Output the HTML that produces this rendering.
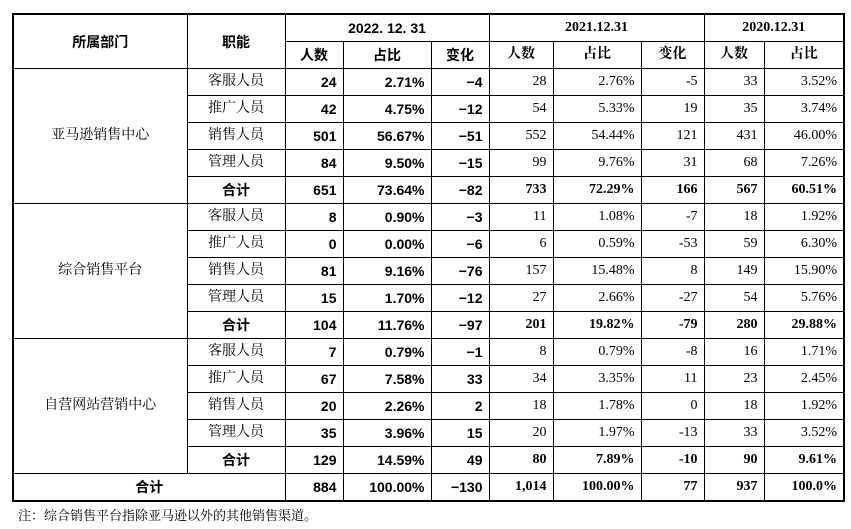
<!DOCTYPE html>
<html><head><meta charset="utf-8"><style>
body{margin:0;background:#fff;width:851px;height:529px;overflow:hidden;position:relative}
table{position:absolute;left:12px;top:13px;border-collapse:collapse;border:2px solid #000;table-layout:fixed;font-family:"Liberation Serif","Noto Serif CJK SC",serif;font-size:14px;color:#000}
td,th{border:1px solid #000;padding:0 6px;height:26px;line-height:16px;white-space:nowrap;vertical-align:middle;overflow:hidden}
th{font-weight:bold;text-align:center;font-family:"Liberation Sans","Noto Sans CJK SC",sans-serif}
td{text-align:right}
.c{text-align:center}
.s{font-family:"Liberation Sans","Noto Sans CJK SC",sans-serif;font-weight:bold}
.b{font-weight:bold}
.sf{font-family:"Liberation Serif","Noto Serif CJK SC",serif}
.note{position:absolute;left:18px;top:505px;font-family:"Liberation Serif","Noto Serif CJK SC",serif;font-size:13px}
</style></head><body>
<table>
<colgroup><col style="width:174px"><col style="width:98px"><col style="width:58px"><col style="width:88px"><col style="width:58px"><col style="width:64px"><col style="width:88px"><col style="width:63px"><col style="width:60px"><col style="width:80px"></colgroup>
<tr><th rowspan="2">所属部门</th><th rowspan="2">职能</th><th colspan="3">2022. 12. 31</th><th colspan="3" class="sf">2021.12.31</th><th colspan="2" class="sf">2020.12.31</th></tr>
<tr><th>人数</th><th>占比</th><th>变化</th><th class="sf">人数</th><th class="sf">占比</th><th class="sf">变化</th><th class="sf">人数</th><th class="sf">占比</th></tr>
<tr><td class="c" rowspan="5">亚马逊销售中心</td><td class="c">客服人员</td><td class="s">24</td><td class="s">2.71%</td><td class="s">−4</td><td>28</td><td>2.76%</td><td>-5</td><td>33</td><td>3.52%</td></tr>
<tr><td class="c">推广人员</td><td class="s">42</td><td class="s">4.75%</td><td class="s">−12</td><td>54</td><td>5.33%</td><td>19</td><td>35</td><td>3.74%</td></tr>
<tr><td class="c">销售人员</td><td class="s">501</td><td class="s">56.67%</td><td class="s">−51</td><td>552</td><td>54.44%</td><td>121</td><td>431</td><td>46.00%</td></tr>
<tr><td class="c">管理人员</td><td class="s">84</td><td class="s">9.50%</td><td class="s">−15</td><td>99</td><td>9.76%</td><td>31</td><td>68</td><td>7.26%</td></tr>
<tr><td class="c s">合计</td><td class="s">651</td><td class="s">73.64%</td><td class="s">−82</td><td class="b">733</td><td class="b">72.29%</td><td class="b">166</td><td class="b">567</td><td class="b">60.51%</td></tr>
<tr><td class="c" rowspan="5">综合销售平台</td><td class="c">客服人员</td><td class="s">8</td><td class="s">0.90%</td><td class="s">−3</td><td>11</td><td>1.08%</td><td>-7</td><td>18</td><td>1.92%</td></tr>
<tr><td class="c">推广人员</td><td class="s">0</td><td class="s">0.00%</td><td class="s">−6</td><td>6</td><td>0.59%</td><td>-53</td><td>59</td><td>6.30%</td></tr>
<tr><td class="c">销售人员</td><td class="s">81</td><td class="s">9.16%</td><td class="s">−76</td><td>157</td><td>15.48%</td><td>8</td><td>149</td><td>15.90%</td></tr>
<tr><td class="c">管理人员</td><td class="s">15</td><td class="s">1.70%</td><td class="s">−12</td><td>27</td><td>2.66%</td><td>-27</td><td>54</td><td>5.76%</td></tr>
<tr><td class="c s">合计</td><td class="s">104</td><td class="s">11.76%</td><td class="s">−97</td><td class="b">201</td><td class="b">19.82%</td><td class="b">-79</td><td class="b">280</td><td class="b">29.88%</td></tr>
<tr><td class="c" rowspan="5">自营网站营销中心</td><td class="c">客服人员</td><td class="s">7</td><td class="s">0.79%</td><td class="s">−1</td><td>8</td><td>0.79%</td><td>-8</td><td>16</td><td>1.71%</td></tr>
<tr><td class="c">推广人员</td><td class="s">67</td><td class="s">7.58%</td><td class="s">33</td><td>34</td><td>3.35%</td><td>11</td><td>23</td><td>2.45%</td></tr>
<tr><td class="c">销售人员</td><td class="s">20</td><td class="s">2.26%</td><td class="s">2</td><td>18</td><td>1.78%</td><td>0</td><td>18</td><td>1.92%</td></tr>
<tr><td class="c">管理人员</td><td class="s">35</td><td class="s">3.96%</td><td class="s">15</td><td>20</td><td>1.97%</td><td>-13</td><td>33</td><td>3.52%</td></tr>
<tr><td class="c s">合计</td><td class="s">129</td><td class="s">14.59%</td><td class="s">49</td><td class="b">80</td><td class="b">7.89%</td><td class="b">-10</td><td class="b">90</td><td class="b">9.61%</td></tr>
<tr><td class="c s" colspan="2">合计</td><td class="s">884</td><td class="s">100.00%</td><td class="s">−130</td><td class="b">1,014</td><td class="b">100.00%</td><td class="b">77</td><td class="b">937</td><td class="b">100.0%</td></tr>
</table>
<div class="note">注：综合销售平台指除亚马逊以外的其他销售渠道。</div>
</body></html>
